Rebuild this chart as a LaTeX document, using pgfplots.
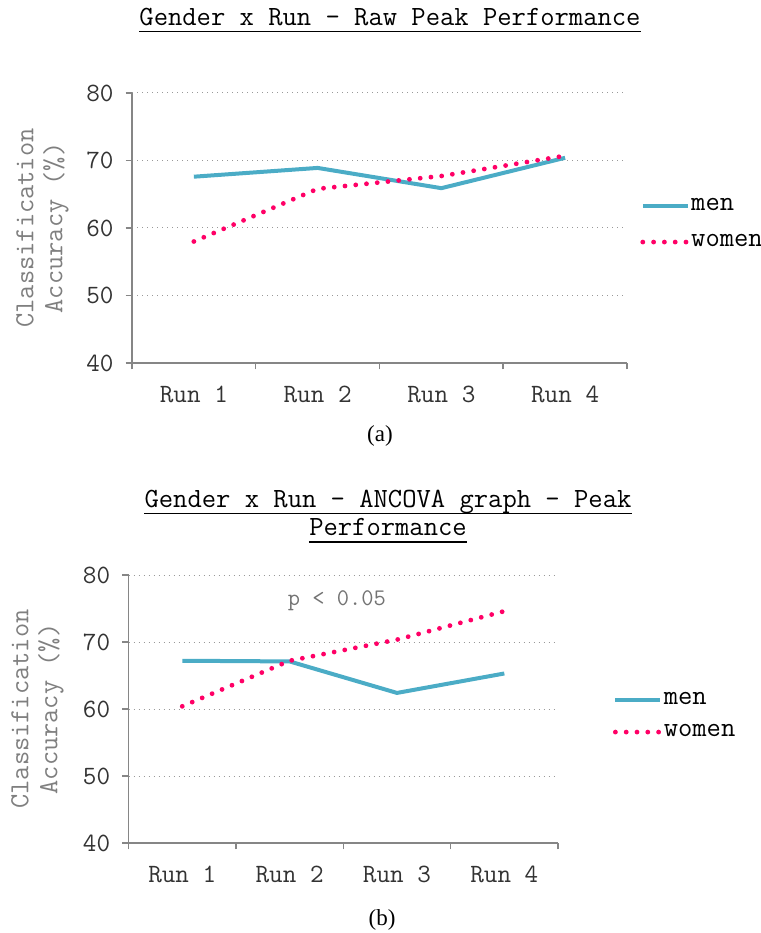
\documentclass[border=0pt]{standalone}
\usepackage{fontspec}
\newfontfamily\capfont{Liberation Serif}
\usepackage{pgfplots}
\pgfplotsset{compat=1.18}
\definecolor{mencol}{HTML}{4BACC6}
\definecolor{womencol}{HTML}{FF0066}
\definecolor{axisgray}{HTML}{868686}
\definecolor{labgray}{HTML}{7F7F7F}
\definecolor{tickgray}{HTML}{333333}
\pgfplotsset{
  panel/.style={
    scale only axis, anchor=south west,
    xmin=0, xmax=4, ymin=40, ymax=80,
    ytick={40,50,60,70,80},
    xtick={0,1,2,3,4},
    x tick label as interval,
    xticklabels={Run 1,Run 2,Run 3,Run 4},
    axis lines=left,
    axis line style={draw=axisgray, line width=0.75pt, -},
    tick align=outside,
    major tick length=3.2pt,
    tick style={draw=axisgray, line width=0.75pt},
    ymajorgrids,
    major grid style={draw=gray!80, line width=0.5pt, dotted},
    /pgf/number format/assume math mode=true,
    ticklabel style={font=\ttfamily\fontsize{13.2}{15}\selectfont, text=tickgray},
    yticklabel style={xshift=-2.5pt},
    xticklabel style={yshift=-5pt},
    clip=false,
    legend cell align=left,
    legend image code/.code={\draw[##1] (0pt,0pt) -- (22.5pt,0pt);},
  },
  menline/.style={color=mencol, line width=2pt, line join=round},
  womenline/.style={color=womencol, line width=2.4pt, line cap=round, dash pattern=on 0pt off 5.4pt},
}
\begin{document}
\begin{tikzpicture}
\useasboundingbox (0,0) rectangle (380.5pt,466.5pt);
% ---------- Panel (a) ----------
\node[anchor=base, inner sep=0pt, font=\ttfamily\fontsize{13.9}{15}\selectfont] (t1) at (195pt,453.5pt) {Gender x Run - Raw Peak Performance};
\draw[line width=0.8pt] ([yshift=-2.8pt]t1.base west) -- ([yshift=-2.8pt]t1.base east);
\begin{axis}[panel,
  at={(66pt,285pt)}, width=247.5pt, height=135pt,
  legend style={draw=none, fill=none, at={(1,0.515)}, anchor=west, xshift=6.5pt,
    inner sep=0pt, row sep=9.5pt, font=\ttfamily\fontsize{13.9}{15}\selectfont,
    nodes={inner sep=0.5pt}},
]
\addplot[menline] coordinates {(0.5,67.6) (1.5,68.9) (2.5,65.9) (3.5,70.4)};
\addlegendentry{men}
\addplot[womenline] coordinates {(0.5,58.0) (1.5,65.8) (2.5,67.7) (3.5,70.7)};
\addlegendentry{women}
\end{axis}
\node[rotate=90, align=center, text=labgray, font=\ttfamily\fontsize{13.8}{14.5}\selectfont] at (21.25pt,352.5pt) {Classification\\Accuracy (\%)};
\node[font=\capfont\fontsize{11.5}{13}\selectfont] at (190pt,248.5pt) {(a)};
% ---------- Panel (b) ----------
\node[anchor=base, inner sep=0pt, font=\ttfamily\fontsize{13.9}{15}\selectfont] (t2) at (194pt,212.5pt) {Gender x Run - ANCOVA graph - Peak};
\draw[line width=0.8pt] ([yshift=-2.7pt]t2.base west) -- ([yshift=-2.7pt]t2.base east);
\node[anchor=base, inner sep=0pt, font=\ttfamily\fontsize{13.9}{15}\selectfont] (t3) at (194pt,198.5pt) {Performance};
\draw[line width=0.8pt] ([yshift=-3pt]t3.base west) -- ([yshift=-3pt]t3.base east);
\begin{axis}[panel,
  at={(64.3pt,45pt)}, width=214.7pt, height=134pt,
  legend style={draw=none, fill=none, at={(1,0.474)}, anchor=west, xshift=27.3pt,
    inner sep=0pt, row sep=7.5pt, font=\ttfamily\fontsize{13.9}{15}\selectfont,
    nodes={inner sep=0.5pt}},
]
\addplot[menline] coordinates {(0.5,67.2) (1.5,67.1) (2.5,62.4) (3.5,65.3)};
\addlegendentry{men}
\addplot[womenline] coordinates {(0.5,60.4) (1.5,67.2) (2.5,70.35) (3.5,74.6)};
\addlegendentry{women}
\node[text=gray!90!black, font=\ttfamily\fontsize{11.9}{13}\selectfont] at (axis cs:1.94,76.1) {p < 0.05};
\end{axis}
\node[rotate=90, align=center, text=labgray, font=\ttfamily\fontsize{13.8}{14.5}\selectfont] at (18.75pt,112pt) {Classification\\Accuracy (\%)};
\node[font=\capfont\fontsize{11.5}{13}\selectfont] at (191pt,6.5pt) {(b)};
\end{tikzpicture}
\end{document}
